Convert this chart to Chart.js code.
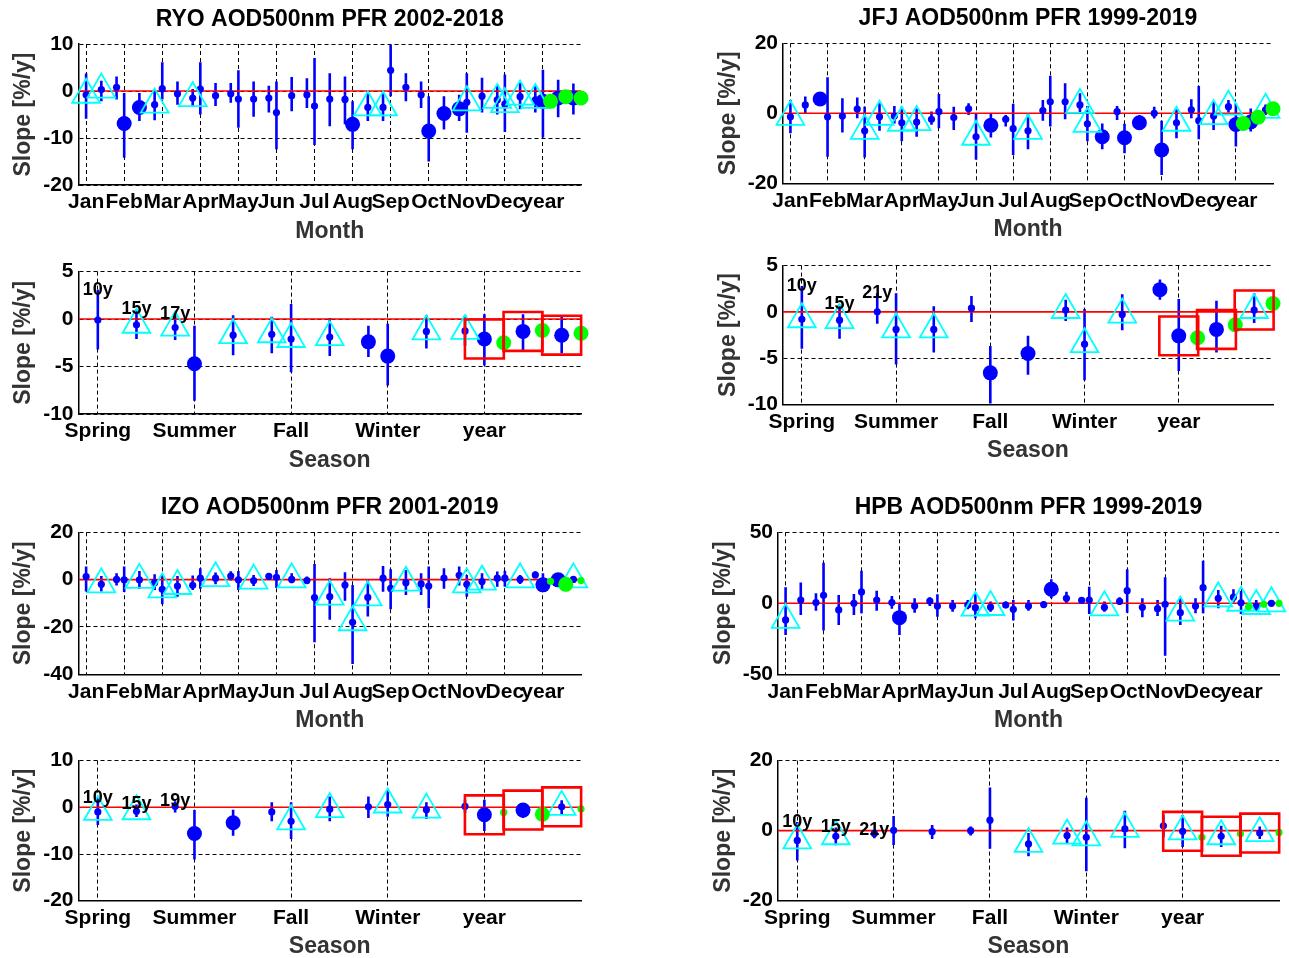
<!DOCTYPE html>
<html><head><meta charset="utf-8">
<script src="https://cdn.jsdelivr.net/npm/chart.js@4.4.1/dist/chart.umd.min.js"></script>
<style>
html,body{margin:0;padding:0;background:#fff;overflow:hidden;}
#wrap{position:relative;width:1289px;height:958px;overflow:hidden;background:#fff;}
#wrap canvas{position:absolute;}
</style></head><body><div id="wrap"></div>
<script>
// ---------- categories ----------
const monthLabels = ['Jan','Feb','Mar','Apr','May','Jun','Jul','Aug','Sep','Oct','Nov','Dec','year'];
const seasonLabels = ['Spring','Summer','Fall','Winter','year'];
const monthRange = [0.8, 14];
const seasonRange = [0.8, 6];
const subOffsets = [0, 0.4, 0.8];      // 10y, 15y, full period within a category
const greenOffsets = [0.2, 0.6, 1.0];  // second estimate next to the yearly values
// marker codes: 'b' significant (big dot), 's' small dot, 't' small dot + triangle

// ---------- RYO ----------
const ryoMonthSlope = [-0.8,0.3,0.8, -6.9,-3.5,-2.9, 0.5,-0.6,-1.5, 0.4,-1.0,-0.6, -1.7,-1.7,-1.5, -4.6,-1.0,-0.8, -3.2,-1.7,-1.8, -7.1,-3.5,-3.5, 4.4,0.8,-0.8, -8.5,-4.8,-3.8, -2.4,-1.1,-1.9, -2.8,-1.2,-1.9, -2.2,-1.5,-1.5];
const ryoMonthLow   = [-5.9,-2.2,-1.8, -14.2,-6.4,-6.2, -1.8,-2.9,-3.2, -5.0,-3.2,-2.5, -7.8,-5.5,-4.6, -12.4,-4.3,-3.6, -11.5,-7.5,-7.1, -12.4,-6.4,-6.4, -1.1,-2.2,-3.6, -15.0,-8.2,-6.4, -8.9,-4.6,-5.0, -8.7,-3.9,-4.6, -9.9,-5.6,-5.0];
const ryoMonthHigh  = [3.7,2.2,3.1, -0.4,-0.4,0.4, 6.1,2.0,0.4, 6.1,1.7,1.7, 4.4,2.0,1.1, 2.0,3.0,2.7, 7.0,3.8,3.1, -2.2,-0.4,-0.4, 9.8,3.8,2.0, -1.1,-1.1,-0.8, 3.8,2.8,1.1, 3.5,1.7,1.0, 4.5,2.4,1.6];
const ryoMonthMark  = ['t','t','s','b','b','t','s','s','t','s','s','s','s','s','s','s','s','s','s','s','s','b','t','t','s','s','s','b','b','b','t','s','t','t','t','t','b','b','b'];
const ryoMonthGreen = [-2.2,-1.2,-1.5];
const ryoMonthGreenMark = ['b','b','b'];

const ryoSeasonSlope = [-0.1,-0.6,-0.9, -4.7,-1.7,-1.6, -2.1,-1.9,-2.4, -3.9,-1.3,-1.25, -2.1,-1.3,-1.7];
const ryoSeasonLow   = [-3.2,-2.1,-2.2, -8.6,-3.8,-3.6, -5.6,-3.9,-4.0, -7.0,-3.1,-2.8, -4.9,-3.4,-3.6];
const ryoSeasonHigh  = [3.1,1.05,0.5, -0.7,0.4,0.25, 1.6,0.1,-0.7, -0.5,0.4,0.4, 0.5,0.5,0.4];
const ryoSeasonMark  = ['s','t','t','b','t','t','t','t','b','b','t','t','b','b','b'];
const ryoSeasonGreen = [-2.5,-1.2,-1.5];
const ryoSeasonGreenMark = ['b','b','b'];
const ryoPeriods = ['10y','15y','17y'];

// ---------- JFJ ----------
const jfjMonthSlope = [-1.0,2.4,4.1, -1.0,-0.8,1.2, -5.0,-1.0,-0.8, -2.7,-2.5,-1.7, 0.5,-1.2,1.3, -6.7,-3.4,-1.7, -4.4,-5.0,0.8, 3.3,3.3,2.4, -3.0,-6.7,0.5, -7.0,-2.7,0.0, -10.5,-2.7,1.0, -2.1,-0.8,1.9, -3.2,-2.5,1.0];
const jfjMonthLow   = [-5.7,0.0,3.3, -12.4,-5.5,-1.4, -12.6,-5.0,-2.9, -8.0,-6.7,-3.3, -4.3,-4.8,-0.5, -13.3,-6.9,-3.8, -11.9,-10.3,-2.1, -3.8,-1.7,0.0, -8.0,-10.3,-1.9, -11.4,-4.6,-1.5, -17.6,-7.1,-1.4, -7.4,-4.8,0.2, -9.5,-5.2,-0.5];
const jfjMonthHigh  = [3.8,4.8,4.9, 10.3,4.3,4.5, 1.9,2.9,2.1, 1.9,1.4,0.5, 5.5,1.9,2.9, 0.0,0.0,-0.5, 2.7,0.0,3.8, 10.7,8.6,5.7, 2.1,-2.9,2.1, -3.0,-0.5,1.9, -2.1,1.1,4.0, 7.8,3.3,3.8, 2.9,1.4,2.5];
const jfjMonthMark  = ['t','s','b','s','s','s','t','t','s','t','t','s','s','s','s','t','b','s','s','t','s','s','s','t','t','b','s','b','b','s','b','t','s','s','t','t','b','b','t'];
const jfjMonthGreen = [-2.9,-1.1,1.3];
const jfjMonthGreenMark = ['b','b','b'];

const jfjSeasonSlope = [-0.8,-0.9,0.0, -1.9,-1.9,0.4, -6.6,-4.5,0.2, -3.5,-0.3,2.4, -2.6,-1.9,0.2];
const jfjSeasonLow   = [-4.0,-2.9,-1.3, -5.7,-4.4,-1.1, -9.9,-6.8,-1.0, -7.4,-2.0,1.3, -6.4,-4.4,-1.2];
const jfjSeasonHigh  = [2.8,0.8,2.0, 2.0,0.6,1.7, -3.7,-2.6,1.3, 0.3,1.9,3.5, 1.4,1.2,2.0];
const jfjSeasonMark  = ['t','t','s','t','t','s','b','b','t','t','t','b','b','b','t'];
const jfjSeasonGreen = [-2.8,-1.4,0.9];
const jfjSeasonGreenMark = ['b','b','b'];
const jfjPeriods = ['10y','15y','21y'];

// ---------- IZO ----------
const izoMonthSlope = [1.3,-2.0,0.1, -0.1,-0.1,-1.3, -4.1,-2.7,-2.4, 0.6,0.6,1.5, -0.1,-0.4,1.4, 1.0,0.1,-0.4, -7.6,-7.2,-2.3, -18.0,-7.5,0.6, -3.7,-1.3,-1.8, -2.7,0.7,1.8, -2.0,-0.8,0.6, 0.6,0.1,2.0, -2.2,-0.1,0.1];
const izoMonthLow   = [-5.0,-5.0,-2.5, -5.2,-4.0,-4.4, -10.4,-7.2,-4.4, -3.8,-2.0,-0.4, -4.4,-2.7,0.4, -3.5,-1.5,-1.8, -26.5,-17.0,-8.9, -35.6,-15.6,-5.1, -12.5,-6.5,-6.5, -12.1,-3.9,-2.5, -7.2,-4.4,-3.0, -3.0,-1.8,0.6, -5.0,-1.5,-1.0];
const izoMonthHigh  = [5.5,1.5,2.7, 5.5,3.7,2.3, 2.3,1.5,1.7, 4.8,3.0,3.5, 3.7,2.0,2.4, 4.1,2.7,1.3, 6.6,0.6,3.1, -2.3,-0.1,5.8, 4.4,4.1,2.7, 5.5,4.8,5.5, 2.0,2.7,3.4, 3.8,2.0,3.4, 2.7,1.3,1.5];
const izoMonthMark  = ['s','t','s','s','t','s','t','t','s','s','t','s','s','t','s','s','t','s','s','t','s','t','t','s','s','t','s','s','s','s','t','t','s','s','t','s','b','b','t'];
const izoMonthGreen = [-0.7,-2.0,-0.4];
const izoMonthGreenMark = ['s','b','s'];

const izoSeasonSlope = [-1.0,-0.85,0.2, -5.6,-3.3,-1.0, -3.0,-0.4,0.1, 0.6,-0.5,0.2, -1.6,-0.6,0.1];
const izoSeasonLow   = [-3.8,-2.1,-1.1, -11.2,-6.1,-3.0, -6.8,-3.0,-2.3, -2.0,-2.5,-1.2, -5.1,-2.3,-1.5];
const izoSeasonHigh  = [2.0,0.6,1.3, -0.6,-0.5,1.1, 1.1,2.3,2.3, 3.4,1.1,1.6, 1.6,0.6,1.5];
const izoSeasonMark  = ['t','t','s','b','b','s','t','t','s','t','t','s','b','b','t'];
const izoSeasonGreen = [-1.1,-1.5,-0.35];
const izoSeasonGreenMark = ['s','b','s'];
const izoPeriods = ['10y','15y','19y'];

// ---------- HPB ----------
const hpbMonthSlope = [-11.7,2.3,0.5, 5.6,-4.7,0.0, 8.0,2.3,0.5, -10.1,-1.9,1.6, -1.9,-1.9,-1.2, -3.1,-2.6,-1.2, -4.2,-1.9,-0.9, 9.9,3.5,2.1, 2.3,-2.8,1.4, 8.9,-2.8,-3.8, -0.7,-6.6,-1.9, 11.0,3.5,4.3, 0.4,-1.9,0.0];
const hpbMonthLow   = [-22.3,-8.2,-5.2, -19.2,-15.3,-8.2, -7.0,-5.2,-3.8, -22.3,-6.6,-1.9, -9.4,-5.9,-4.2, -10.6,-5.9,-3.5, -12.2,-5.2,-2.8, 3.5,0.0,0.0, -7.5,-5.9,-1.2, -6.6,-9.9,-8.9, -37.0,-15.3,-7.0, -7.0,-3.5,0.5, -7.5,-5.2,-1.8];
const hpbMonthHigh  = [11.3,14.6,7.0, 28.6,5.9,6.6, 23.0,8.9,5.2, -0.5,3.5,4.2, 6.3,2.3,2.3, 6.6,1.2,1.2, 2.3,2.3,1.2, 16.9,8.2,3.5, 11.7,1.2,4.2, 23.9,3.5,2.3, 18.3,4.2,3.5, 30.0,9.4,9.9, 8.7,2.3,1.8];
const hpbMonthMark  = ['t','s','s','s','s','s','s','s','s','b','s','s','s','s','s','t','t','s','s','s','s','b','s','s','s','t','s','s','s','s','s','t','s','s','t','s','t','t','t'];
const hpbMonthGreen = [-2.4,-0.7,0.0];
const hpbMonthGreenMark = ['s','s','s'];

const hpbSeasonSlope = [-2.8,-1.6,-0.8, 0.1,-0.3,0.0, 3.0,-3.8,-1.4, -1.9,0.5,1.4, -0.2,-1.6,-0.7];
const hpbSeasonLow   = [-8.5,-4.2,-2.2, -4.1,-2.4,-1.4, -5.2,-7.3,-3.8, -11.6,-5.0,-1.9, -4.7,-4.7,-2.4];
const hpbSeasonHigh  = [2.5,0.9,0.3, 4.2,1.6,1.2, 12.3,-0.7,0.9, 9.4,5.7,4.5, 4.5,1.4,1.2];
const hpbSeasonMark  = ['t','t','s','s','s','s','s','t','t','t','t','s','t','t','t'];
const hpbSeasonGreen = [-1.9,-0.9,-0.5];
const hpbSeasonGreenMark = ['s','s','s'];
const hpbPeriods = ['10y','15y','21y'];

// ---------- drawing ----------
const FONT = "'Liberation Sans', Arial, Helvetica, sans-serif";
Chart.defaults.font.family = FONT;
Chart.defaults.font.weight = 'bold';
Chart.defaults.color = '#000';

const BLUE = '#0000ff', CYAN = '#00ffff', GREEN = '#00ff00', RED = '#ff0000';

function xOf(i) { return Math.floor(i / 3) + 1 + subOffsets[i % 3]; }

function periodLabelPlugin(periods, high) {
  return {
    id: 'periodLabels',
    afterDatasetsDraw(chart) {
      const ctx = chart.ctx, xs = chart.scales.x, ys = chart.scales.y;
      ctx.save();
      ctx.font = 'bold 18px ' + FONT;
      ctx.fillStyle = '#000';
      ctx.textAlign = 'center';
      ctx.textBaseline = 'middle';
      periods.forEach((t, k) => {
        ctx.fillText(t, xs.getPixelForValue(1 + subOffsets[k]), ys.getPixelForValue(high[k]));
      });
      ctx.restore();
    }
  };
}

function makePanel(p) {
  const labels = p.season ? seasonLabels : monthLabels;
  const range = p.season ? seasonRange : monthRange;
  const nCat = labels.length;
  const canvasLeft = Math.floor(p.plotLeft - 78);
  const topSpace = p.title ? 44 : 16;
  const canvasTop = Math.floor(p.plotTop - topSpace);
  const yWidth = p.plotLeft - canvasLeft;
  const W = Math.ceil(p.plotRight - canvasLeft + 18);
  const padRight = canvasLeft + W - p.plotRight;
  const xH = 62;
  const H = Math.ceil(p.plotBottom - canvasTop + xH + 6);
  const padBottom = H - (p.plotBottom - canvasTop) - xH;
  const padTop = p.title ? 0 : (p.plotTop - canvasTop);
  const lh = 23 * 1.2;
  let titleOpts = { display: false };
  if (p.title) {
    const pt = p.titleY - canvasTop - lh / 2;
    const pb = (p.plotTop - canvasTop) - pt - lh;
    titleOpts = { display: true, fullSize: false, text: p.title, color: '#000',
      font: { size: 23, weight: 'bold', lineHeight: 1.2 }, padding: { top: pt, bottom: pb } };
  }

  const cv = document.createElement('canvas');
  cv.width = W; cv.height = H;
  cv.style.left = canvasLeft + 'px'; cv.style.top = canvasTop + 'px';
  cv.style.width = W + 'px'; cv.style.height = H + 'px';
  document.getElementById('wrap').appendChild(cv);

  const v = p.slope;
  const small = [], big = [], tri = [], err = [];
  v.forEach((val, i) => {
    const x = xOf(i);
    if (p.mark[i] === 'b') big.push({ x, y: val }); else small.push({ x, y: val });
    if (p.mark[i] === 't') tri.push({ x, y: val });
    err.push({ x, y: p.low[i] }, { x, y: p.high[i] }, { x, y: null });
  });
  const gBig = [], gSmall = [];
  p.green.forEach((g, k) => {
    const pt = { x: nCat + greenOffsets[k], y: g };
    if (p.greenMark[k] === 'b') gBig.push(pt); else gSmall.push(pt);
  });
  const boxes = [];
  if (p.season) {
    for (let k = 0; k < 3; k++) { const i = (nCat - 1) * 3 + k; boxes.push({ x: xOf(i), y: v[i] }); }
  }

  const datasets = [
    { label: 'err', data: err, showLine: true, spanGaps: false, borderColor: BLUE, borderWidth: 2.6,
      pointRadius: 0, order: 7, clip: false, borderCapStyle: 'butt' },
    { label: 'zero', data: [{ x: range[0], y: 0 }, { x: range[1], y: 0 }], showLine: true,
      borderColor: RED, borderWidth: 1.6, pointRadius: 0, order: 6 },
    { label: 'small', data: small, pointStyle: 'circle', pointRadius: 3.6, backgroundColor: BLUE,
      borderWidth: 0, order: 5, clip: false },
    { label: 'big', data: big, pointStyle: 'circle', pointRadius: 7.5, backgroundColor: BLUE,
      borderWidth: 0, order: 4, clip: false },
    { label: 'tri', data: tri, pointStyle: 'triangle', pointRadius: 16, backgroundColor: 'rgba(0,0,0,0)',
      borderColor: CYAN, pointBorderWidth: 1.8, borderWidth: 1.8, order: 3, clip: false },
    { label: 'gsmall', data: gSmall, pointStyle: 'circle', pointRadius: 3.6, backgroundColor: GREEN,
      borderWidth: 0, order: 2, clip: false },
    { label: 'gbig', data: gBig, pointStyle: 'circle', pointRadius: 7.5, backgroundColor: GREEN,
      borderWidth: 0, order: 1, clip: false },
    { label: 'box', data: boxes, pointStyle: 'rect', pointRadius: 27.5, backgroundColor: 'rgba(0,0,0,0)',
      borderColor: RED, pointBorderWidth: 2.6, borderWidth: 2.6, order: 0, clip: false }
  ];

  const plugins = [];
  if (p.periods) plugins.push(periodLabelPlugin(p.periods, p.high));

  new Chart(cv, {
    type: 'scatter',
    data: { datasets },
    plugins,
    options: {
      responsive: false, animation: false, events: [],
      devicePixelRatio: 1,
      layout: { autoPadding: false, padding: { left: 0, right: padRight, top: padTop, bottom: padBottom } },
      elements: { line: { tension: 0 } },
      plugins: { legend: { display: false }, tooltip: { enabled: false }, title: titleOpts },
      scales: {
        x: {
          type: 'linear', min: range[0], max: range[1],
          afterBuildTicks: (s) => { s.ticks = labels.map((_, i) => ({ value: i + 1 })); },
          afterFit: (s) => { s.height = xH; },
          ticks: { autoSkip: false, maxRotation: 0, minRotation: 0, padding: 5, color: '#000',
            font: { size: 21, weight: 'bold' },
            callback: (val) => labels[Math.round(val) - 1] },
          grid: { color: '#000', lineWidth: 1, drawTicks: false },
          border: { display: true, color: '#000', width: 1.5, dash: [4, 3] },
          title: { display: true, text: p.season ? 'Season' : 'Month', color: '#333',
            font: { size: 23, weight: 'bold', lineHeight: 1.2 }, padding: { top: 0, bottom: 2 } }
        },
        y: {
          type: 'linear', min: p.yMin, max: p.yMax,
          afterFit: (s) => { s.width = yWidth; },
          ticks: { stepSize: p.yStep, padding: 5, color: '#000', font: { size: 21, weight: 'bold' } },
          grid: { color: '#000', lineWidth: 1, drawTicks: false },
          border: { display: true, color: '#000', width: 1.5, dash: [4, 3] },
          title: { display: true, text: 'Slope [%/y]', color: '#333',
            font: { size: 23, weight: 'bold', lineHeight: 1.2 }, padding: { top: 9.7, bottom: 0 } }
        }
      }
    }
  });
}

makePanel({ title: 'RYO AOD500nm PFR 2002-2018', titleY: 19.5, plotLeft: 78.5, plotRight: 581, plotTop: 44, plotBottom: 185,
  yMin: -20, yMax: 10, yStep: 10, slope: ryoMonthSlope, low: ryoMonthLow, high: ryoMonthHigh, mark: ryoMonthMark,
  green: ryoMonthGreen, greenMark: ryoMonthGreenMark });
makePanel({ season: true, plotLeft: 78.5, plotRight: 581, plotTop: 270.7, plotBottom: 414,
  yMin: -10, yMax: 5, yStep: 5, slope: ryoSeasonSlope, low: ryoSeasonLow, high: ryoSeasonHigh, mark: ryoSeasonMark,
  green: ryoSeasonGreen, greenMark: ryoSeasonGreenMark, periods: ryoPeriods });

makePanel({ title: 'JFJ AOD500nm PFR 1999-2019', titleY: 19, plotLeft: 783, plotRight: 1273, plotTop: 43.3, plotBottom: 183.3,
  yMin: -20, yMax: 20, yStep: 20, slope: jfjMonthSlope, low: jfjMonthLow, high: jfjMonthHigh, mark: jfjMonthMark,
  green: jfjMonthGreen, greenMark: jfjMonthGreenMark });
makePanel({ season: true, plotLeft: 783, plotRight: 1273, plotTop: 264.3, plotBottom: 404.3,
  yMin: -10, yMax: 5, yStep: 5, slope: jfjSeasonSlope, low: jfjSeasonLow, high: jfjSeasonHigh, mark: jfjSeasonMark,
  green: jfjSeasonGreen, greenMark: jfjSeasonGreenMark, periods: jfjPeriods });

makePanel({ title: 'IZO AOD500nm PFR 2001-2019', titleY: 508, plotLeft: 78.5, plotRight: 581, plotTop: 532.3, plotBottom: 674.3,
  yMin: -40, yMax: 20, yStep: 20, slope: izoMonthSlope, low: izoMonthLow, high: izoMonthHigh, mark: izoMonthMark,
  green: izoMonthGreen, greenMark: izoMonthGreenMark });
makePanel({ season: true, plotLeft: 78.5, plotRight: 581, plotTop: 759, plotBottom: 900.7,
  yMin: -20, yMax: 10, yStep: 10, slope: izoSeasonSlope, low: izoSeasonLow, high: izoSeasonHigh, mark: izoSeasonMark,
  green: izoSeasonGreen, greenMark: izoSeasonGreenMark, periods: izoPeriods });

makePanel({ title: 'HPB AOD500nm PFR 1999-2019', titleY: 508, plotLeft: 778, plotRight: 1279, plotTop: 532.3, plotBottom: 674.3,
  yMin: -50, yMax: 50, yStep: 50, slope: hpbMonthSlope, low: hpbMonthLow, high: hpbMonthHigh, mark: hpbMonthMark,
  green: hpbMonthGreen, greenMark: hpbMonthGreenMark });
makePanel({ season: true, plotLeft: 778, plotRight: 1279, plotTop: 759, plotBottom: 900.7,
  yMin: -20, yMax: 20, yStep: 20, slope: hpbSeasonSlope, low: hpbSeasonLow, high: hpbSeasonHigh, mark: hpbSeasonMark,
  green: hpbSeasonGreen, greenMark: hpbSeasonGreenMark, periods: hpbPeriods });
</script>
</body></html>
